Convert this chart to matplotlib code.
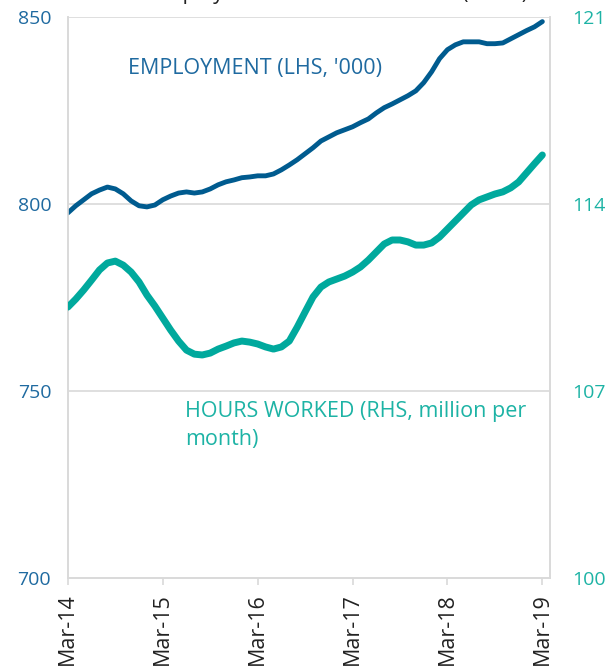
import numpy as np
import matplotlib.pyplot as plt

plt.rcParams["font.family"] = ["Open Sans", "DejaVu Sans"]

# monthly, Mar-14 .. Mar-19
tick_labels = ["Mar-14", "Mar-15", "Mar-16", "Mar-17", "Mar-18", "Mar-19"]

employment = [797.6, 799.5, 801.1, 802.7, 803.7, 804.5, 804.0, 802.7, 800.8, 799.5,
              799.2, 799.7, 801.1, 802.1, 802.9, 803.2, 802.9, 803.2, 804.0, 805.1,
              805.9, 806.4, 807.0, 807.2, 807.5, 807.5, 808.0, 809.1, 810.4, 811.8,
              813.4, 815.0, 816.8, 817.9, 819.0, 819.8, 820.6, 821.7, 822.7, 824.3,
              825.7, 826.7, 827.8, 828.9, 830.2, 832.4, 835.3, 838.8, 841.2, 842.5,
              843.3, 843.3, 843.3, 842.8, 842.8, 843.0, 844.1, 845.2, 846.3, 847.3,
              848.7]

hours = [110.14, 110.44, 110.78, 111.15, 111.53, 111.79, 111.86, 111.71, 111.45, 111.08,
         110.59, 110.18, 109.73, 109.28, 108.87, 108.53, 108.38, 108.35, 108.42, 108.57,
         108.68, 108.80, 108.87, 108.83, 108.76, 108.65, 108.57, 108.65, 108.87, 109.39,
         109.96, 110.52, 110.89, 111.08, 111.19, 111.30, 111.45, 111.64, 111.90, 112.20,
         112.50, 112.65, 112.65, 112.58, 112.46, 112.46, 112.54, 112.76, 113.06, 113.36,
         113.66, 113.96, 114.15, 114.26, 114.37, 114.45, 114.60, 114.82, 115.16, 115.50,
         115.83]

blue = "#005B8F"
teal = "#00A99D"
blue_lbl = "#1F6AA0"
teal_lbl = "#1DB3A5"
grid = "#D9D9D9"

x = np.arange(len(employment))

fig = plt.figure(figsize=(6.06, 6.70), dpi=100)
ax = fig.add_axes([0.112, 0.137, 0.796, 0.838])
ax2 = ax.twinx()

ax.set_ylim(700, 850)
ax.set_yticks([700, 750, 800, 850])
ax2.set_ylim(100, 121)
ax2.set_yticks([100, 107, 114, 121])
ax.set_xlim(0, 61)
ax.set_xticks(np.arange(0, 61, 12))
ax.set_xticklabels(tick_labels, rotation=90, fontsize=15.5, color="#222222")

for y in [750, 800, 850]:
    ax.axhline(y, color=grid, lw=1.2, zorder=0)

ax.plot(x, employment, color=blue, lw=3.5, solid_capstyle="round", zorder=3)
ax2.plot(x, hours, color=teal, lw=5.0, solid_capstyle="round", zorder=3)

for a in (ax, ax2):
    for s in a.spines.values():
        s.set_color(grid)
        s.set_linewidth(1.2)
    a.spines["top"].set_visible(False)

ax.tick_params(axis="y", length=0, pad=12, labelsize=14, labelcolor=blue_lbl)
ax2.tick_params(axis="y", length=0, pad=16, labelsize=14, labelcolor=teal_lbl)
ax.tick_params(axis="x", length=5, width=1.2, color=grid, pad=6)

# series labels
fig.text(0.211, 1 - 74 / 670, "EMPLOYMENT (LHS, '000)", fontsize=15.5,
         color=blue_lbl, va="baseline", ha="left")
fig.text(0.305, 1 - 417 / 670, "HOURS WORKED (RHS, million per", fontsize=15.5,
         color=teal_lbl, va="baseline", ha="left")
fig.text(0.305, 1 - 445 / 670, "month)", fontsize=15.5,
         color=teal_lbl, va="baseline", ha="left")

# title is cut off at the top edge of the image
fig.text(0.25, 1.0 + 1.0 / 670, "Employment and hours worked (trend)",
         fontsize=15, color="#222222", va="baseline", ha="left")

fig.savefig("out.png", dpi=100)
